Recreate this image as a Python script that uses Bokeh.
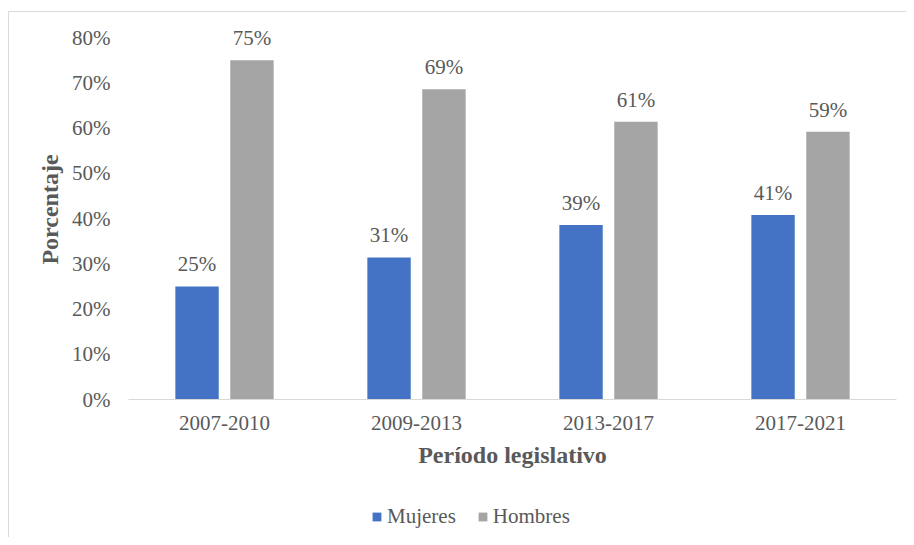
from bokeh.plotting import figure
from bokeh.layouts import column
from bokeh.models import ColumnDataSource, LabelSet, Legend, LegendItem, PrintfTickFormatter, FactorRange, Range1d
from bokeh.transform import dodge
from bokeh.core.properties import value
from bokeh.embed import file_html
from bokeh.resources import INLINE

periods = ["2007-2010", "2009-2013", "2013-2017", "2017-2021"]
mujeres = [25.0, 31.4, 38.6, 40.8]
hombres = [75.0, 68.6, 61.4, 59.2]
y_ticks = [0, 10, 20, 30, 40, 50, 60, 70, 80]
series_names = ["Mujeres", "Hombres"]
series_colors = ["#4472C4", "#A5A5A5"]

FONT = "Liberation Serif"
TXT = "#595959"
FRAME = "#d9d9d9"

src = ColumnDataSource(dict(
    period=periods,
    mujeres=mujeres,
    hombres=hombres,
    mlab=[f"{round(v)}%" for v in mujeres],
    hlab=[f"{round(v)}%" for v in hombres],
))

W = 906
H1, H2 = 478, 59

bg1 = {
    "background-image": f"linear-gradient({FRAME},{FRAME}), linear-gradient({FRAME},{FRAME})",
    "background-size": "100% 1px, 1px 100%",
    "background-position": "8px 11px, 8px 11px",
    "background-repeat": "no-repeat",
}
bg2 = {
    "background-image": f"linear-gradient({FRAME},{FRAME})",
    "background-size": "1px 100%",
    "background-position": "8px 0px",
    "background-repeat": "no-repeat",
}

p = figure(width=W, height=H1, x_range=FactorRange(factors=periods), y_range=Range1d(0, 84),
           output_backend="svg", toolbar_location=None,
           min_border_left=128, min_border_right=10, min_border_top=19, min_border_bottom=79,
           styles=bg1)
p.border_fill_color = None
p.background_fill_color = None
p.outline_line_color = None
p.xgrid.grid_line_color = None
p.ygrid.grid_line_color = None

p.vbar(x=dodge("period", -0.143, range=p.x_range), top="mujeres", width=0.226,
       source=src, fill_color=series_colors[0], line_color=None)
p.vbar(x=dodge("period", 0.143, range=p.x_range), top="hombres", width=0.226,
       source=src, fill_color=series_colors[1], line_color=None)

for col, lab, off in (("mujeres", "mlab", -0.143), ("hombres", "hlab", 0.143)):
    ls = LabelSet(x=dodge("period", off, range=p.x_range), y=col, text=lab, source=src,
                  text_align="center", text_baseline="alphabetic", y_offset=15,
                  text_font=value(FONT), text_font_size="21px", text_color=TXT)
    p.add_layout(ls)

p.yaxis.ticker = y_ticks
p.yaxis.formatter = PrintfTickFormatter(format="%d%%")
for ax in (p.xaxis[0], p.yaxis[0]):
    ax.major_tick_line_color = None
    ax.minor_tick_line_color = None
    ax.major_label_text_font = FONT
    ax.major_label_text_font_size = "21px"
    ax.major_label_text_color = TXT
    ax.axis_label_text_font = FONT
    ax.axis_label_text_font_size = "24px"
    ax.axis_label_text_font_style = "bold"
    ax.axis_label_text_color = TXT
p.yaxis.axis_line_color = None
p.yaxis.major_label_standoff = 12
p.yaxis.axis_label = "Porcentaje"
p.yaxis.axis_label_standoff = 6
p.xaxis.axis_line_color = FRAME
p.xaxis.major_label_standoff = 10
p.xaxis.axis_label = "Período legislativo"
p.xaxis.axis_label_standoff = 9

# legend strip
p2 = figure(width=W, height=H2, x_range=Range1d(0, 1), y_range=Range1d(0, 1),
            output_backend="svg", toolbar_location=None,
            min_border_left=0, min_border_right=0, min_border_top=0, min_border_bottom=0,
            styles=bg2)
p2.border_fill_color = None
p2.background_fill_color = None
p2.outline_line_color = None
p2.xaxis.visible = False
p2.yaxis.visible = False
p2.xgrid.grid_line_color = None
p2.ygrid.grid_line_color = None
items = []
for name, color in zip(series_names, series_colors):
    r = p2.vbar(x=[0.5], top=[float("nan")], width=0.1, fill_color=color, line_color=None)
    items.append(LegendItem(label=name, renderers=[r]))

legend = Legend(items=items, orientation="horizontal", location=(243, 8),
                glyph_width=11, glyph_height=11, label_standoff=5, spacing=21,
                padding=0, margin=0, border_line_color=None, background_fill_alpha=0,
                label_text_font=FONT, label_text_font_size="21px", label_text_color=TXT)
p2.add_layout(legend, "center")

layout = column(p, p2, spacing=0)
open("out.html", "w").write(file_html(layout, INLINE))
